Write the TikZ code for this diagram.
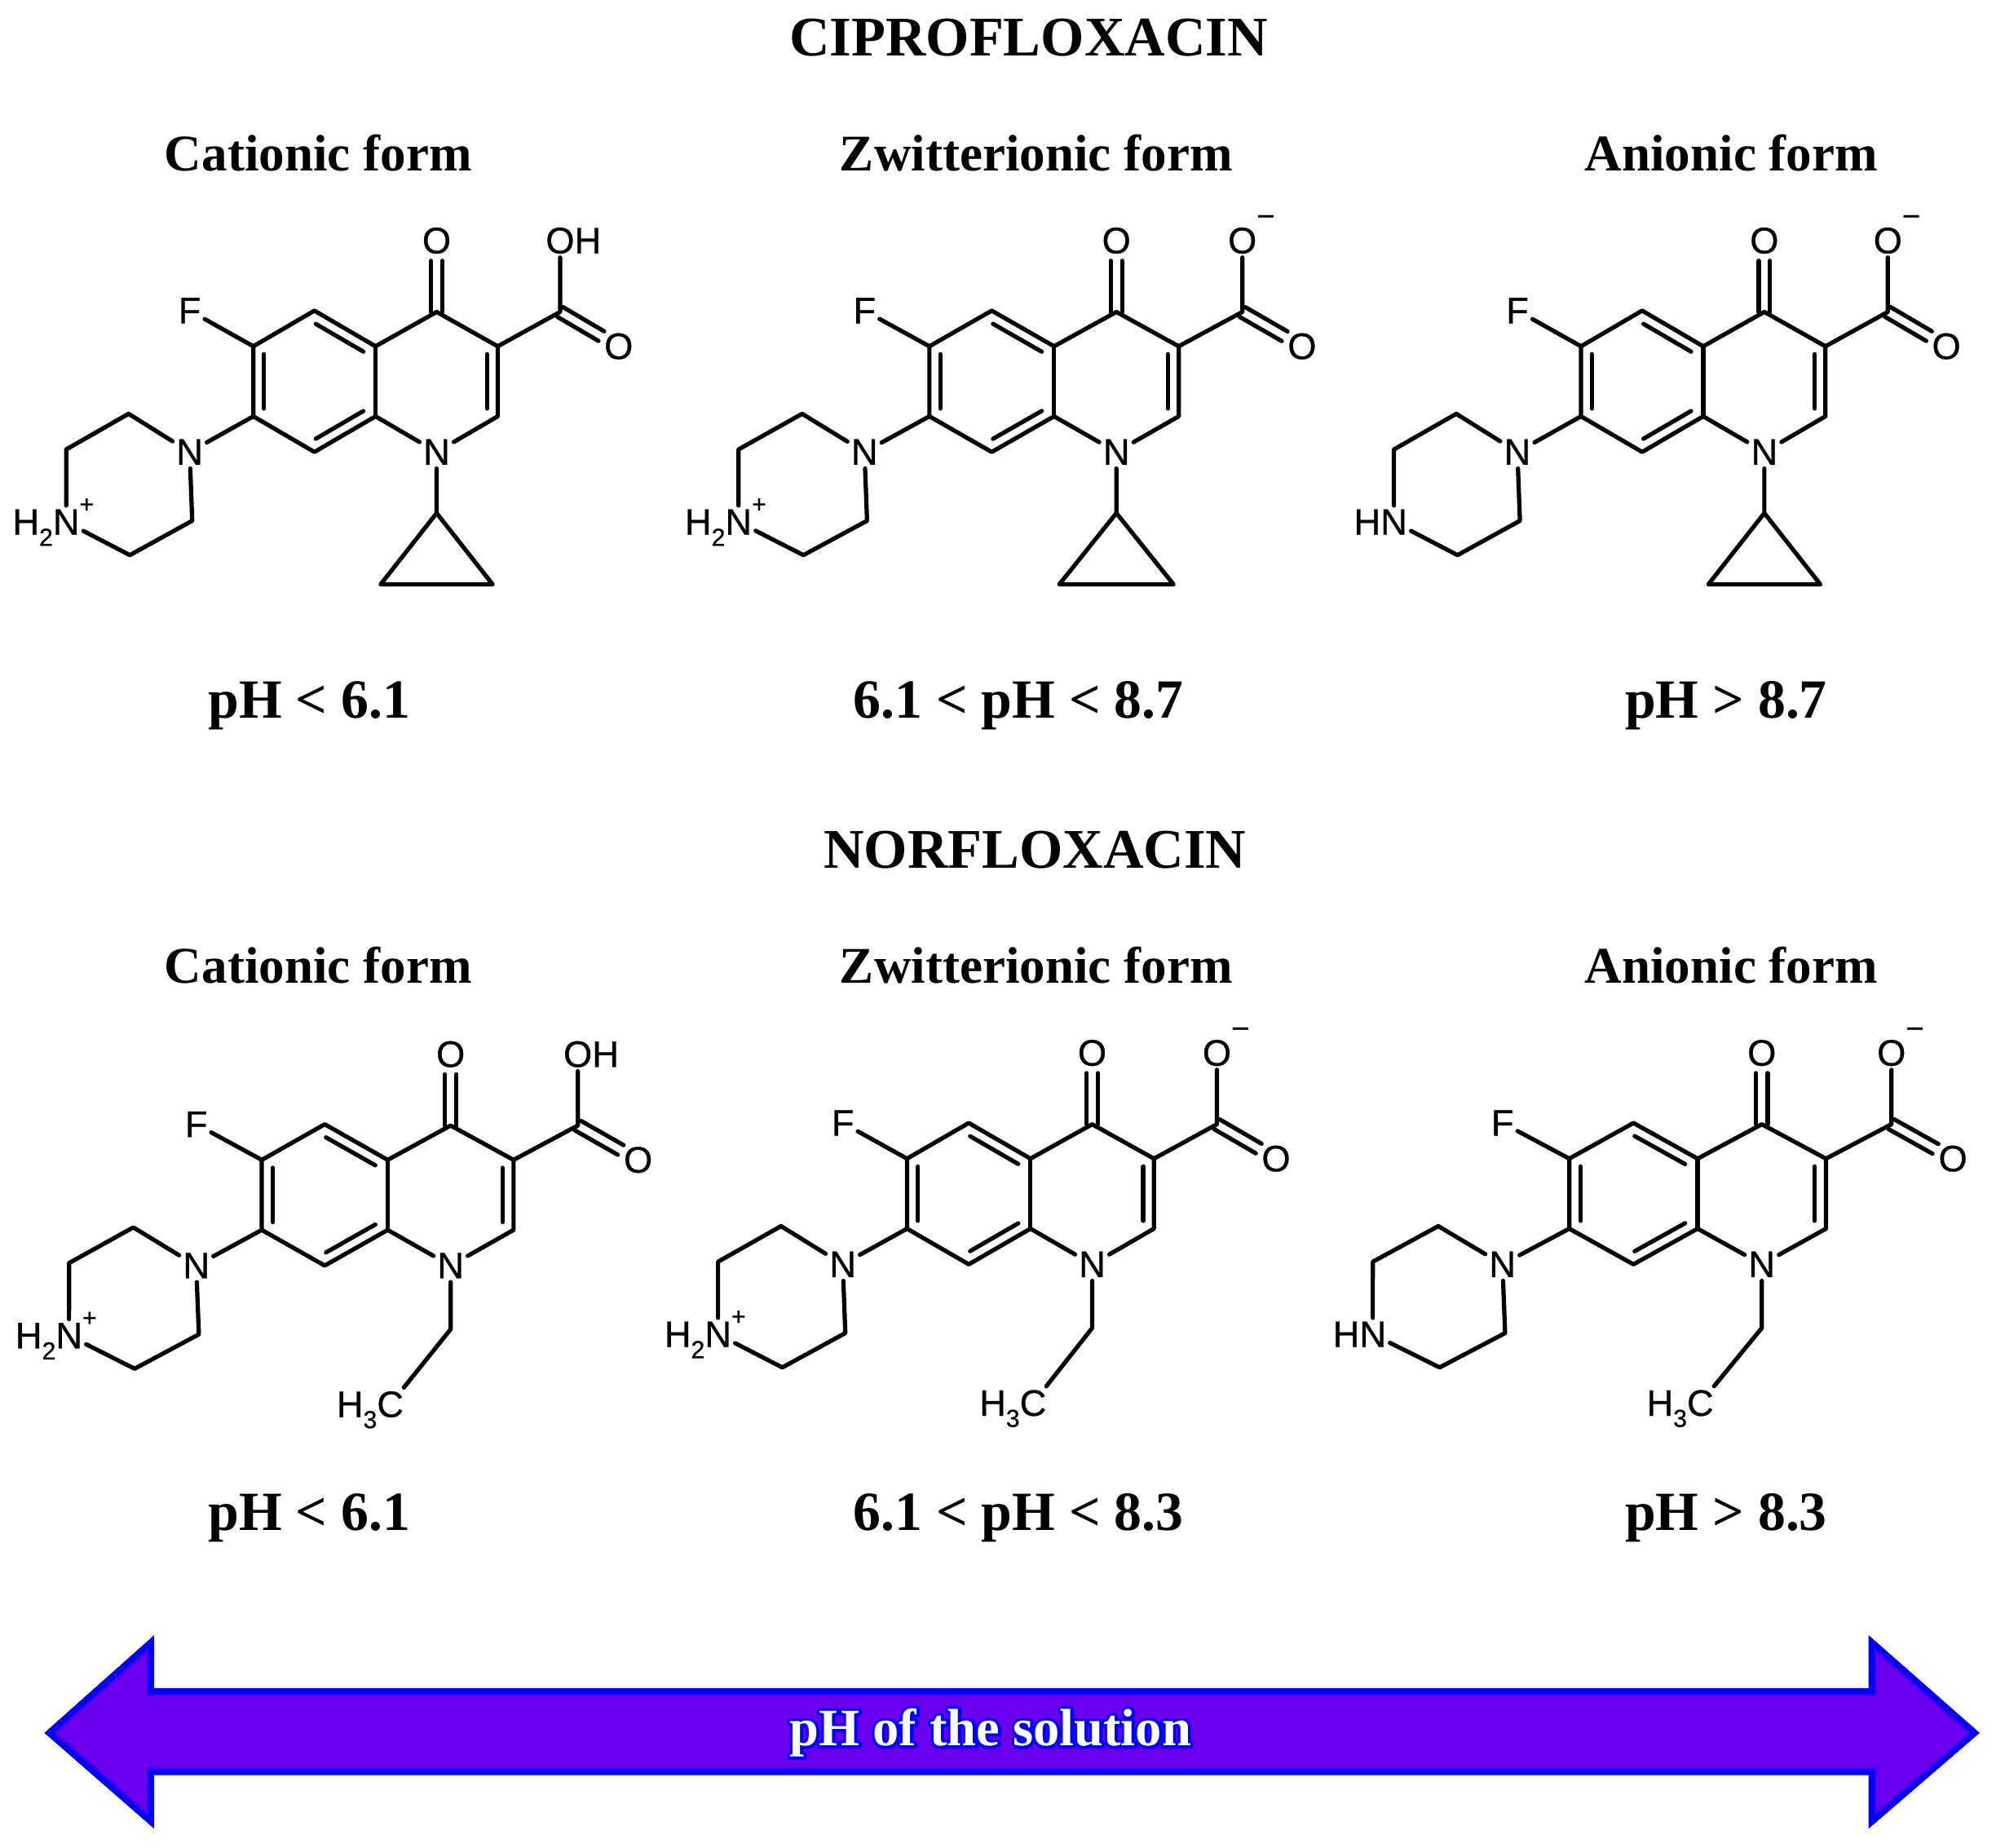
\documentclass[tikz,border=0pt]{standalone}
\usepackage{fontspec}
\setmainfont{Liberation Serif}
\newfontfamily\atomfont[FakeBold=0.6]{Liberation Sans}
\usetikzlibrary{calc}

\newcommand{\subtxt}[1]{\smash{\raisebox{-.3em}{\fontsize{11}{11}\selectfont #1}}}
\newcommand{\suptxt}[3]{\smash{\raisebox{#1}{\fontsize{#2}{#2}\selectfont #3}}}
% contour bleu autour du texte blanc
\newcommand{\halotxt}[1]{\rlap{\special{pdf:code 2 Tr 2.6 w 1 j 0 0 1 RG}#1\special{pdf:code 0 Tr}}#1}

\tikzset{
  bond/.style={line width=1.9pt, line cap=round, line join=round},
  atom/.style={font=\atomfont\fontsize{16.5}{16.5}\selectfont, inner sep=1.5pt},
  drugTitle/.style={font=\bfseries\fontsize{25}{25}\selectfont, anchor=base},
  formTitle/.style={font=\bfseries\fontsize{23}{23}\selectfont, anchor=base},
  phRange/.style={font=\bfseries\fontsize{24.7}{24.7}\selectfont, anchor=base},
  phLabel/.style={font=\bfseries\fontsize{23.5}{23.5}\selectfont, anchor=base, text=white},
}

% liaison double dans le cycle (cote gauche du sens a -> b)
\newcommand{\ringdouble}[2]{%
  \draw[bond, shorten <=3.5pt, shorten >=3.5pt] ($(#1)!4.8pt!90:(#2)$) -- ($(#2)!4.8pt!-90:(#1)$);}
% liaison double C=O
\newcommand{\oxodouble}[2]{%
  \draw[bond, shorten >=9pt] ($(#1)!2.5pt!90:(#2)$) -- ($(#2)!2.5pt!-90:(#1)$);
  \draw[bond, shorten >=9pt] ($(#1)!2.5pt!-90:(#2)$) -- ($(#2)!2.5pt!90:(#1)$);}

% #1 options du scope, #2 groupe acide, #3 amine, #4 substituant sur N1
\newcommand{\quinolone}[4]{%
  \begin{scope}[#1]
    \coordinate (C6) at (-144,-83);
    \coordinate (C5) at (-96,-111);
    \coordinate (C4a) at (-48,-83);
    \coordinate (C4) at (0,-110);
    \coordinate (C3) at (48,-83);
    \coordinate (C2) at (48,-28);
    \coordinate (C8a) at (-48,-28);
    \coordinate (C8) at (-96,0);
    \coordinate (C7) at (-144,-28);
    \coordinate (acidC) at (97,-110);
    \coordinate (pipTop) at (-242,-30);
    \coordinate (pipLeft) at (-291,-2);
    \coordinate (pipBottom) at (-241,81);
    \coordinate (pipRight) at (-192,54);
    \node[atom] (N1) at (0,0) {N};
    \node[atom] (F) at (-194,-111) {F};
    \node[atom] (O4) at (0,-166) {O};
    \node[atom] (acidO) at (97,-166) {#2};
    \node[atom] (acidOd) at (143,-83) {O};
    \node[atom] (pipN) at (-194,0) {N};
    \node[atom] (amine) at (-291,55) {#3};
    % Squelette
    \draw[bond] (C6) -- (C5) -- (C4a) -- (C4) -- (C3) -- (C2) -- (N1) -- (C8a) -- (C8) -- (C7) -- (C6);
    \draw[bond] (C4a) -- (C8a);
    \ringdouble{C6}{C7}
    \ringdouble{C8}{C8a}
    \ringdouble{C4a}{C5}
    \ringdouble{C2}{C3}
    \oxodouble{C4}{O4}
    \oxodouble{acidC}{acidOd}
    \draw[bond] (C6) -- (F);
    \draw[bond] (C3) -- (acidC) -- (acidO);
    % Piperazine
    \draw[bond] (C7) -- (pipN) -- (pipTop) -- (pipLeft) -- (amine) -- (pipBottom) -- (pipRight) -- (pipN);
    #4
  \end{scope}}

\newcommand{\cyclopropyl}{%
  \coordinate (cpTop) at (0,48);
  \coordinate (cpLeft) at (-44,104);
  \coordinate (cpRight) at (44,104);
  \draw[bond] (N1) -- (cpTop) -- (cpLeft) -- (cpRight) -- (cpTop);}

\newcommand{\ethyl}{%
  \coordinate (etMid) at (0,50);
  \node[atom] (etEnd) at (-46,109) {\llap{H\subtxt{3}}C};
  \draw[bond] (N1) -- (etMid) -- (etEnd);}

\newcommand{\acidH}{O\rlap{H}}
\newcommand{\acidMinus}{O\rlap{\suptxt{.72em}{14}{−}}}
\newcommand{\amineCat}{\llap{H\subtxt{2}}N\rlap{\suptxt{.6em}{11}{+}}}
\newcommand{\amineNeu}{\llap{H}N}

\begin{document}
\begin{tikzpicture}[x=0.02cm, y=-0.02cm, >=stealth]
  % --- CONFIGURATION ---
  \definecolor{arrowFill}{RGB}{106, 0, 238}
  \definecolor{arrowEdge}{RGB}{0, 0, 245}
  \definecolor{arrowSoft}{RGB}{70, 0, 240}
  \useasboundingbox (0,0) rectangle (1568,1451.4);

  % --- CIPROFLOXACINE ---
  \node[drugTitle] (ciproTitle) at (808,44) {CIPROFLOXACIN};
  \node[formTitle] (ciproCat) at (250,134) {Cationic form};
  \node[formTitle] (ciproZwi) at (814,134) {Zwitterionic form};
  \node[formTitle] (ciproAni) at (1360,134) {Anionic form};

  \quinolone{shift={(343,355)}, name prefix=cc-}{\acidH}{\amineCat}{\cyclopropyl}
  \quinolone{shift={(877,355)}, xscale=1.02, name prefix=cz-}{\acidMinus}{\amineCat}{\cyclopropyl}
  \quinolone{shift={(1386,355)}, name prefix=ca-}{\acidMinus}{\amineNeu}{\cyclopropyl}

  \node[phRange] (ciproPh1) at (243,564) {pH < 6.1};
  \node[phRange] (ciproPh2) at (800,564) {6.1 < pH < 8.7};
  \node[phRange] (ciproPh3) at (1356,564) {pH > 8.7};

  % --- NORFLOXACINE ---
  \node[drugTitle] (norTitle) at (813,682) {NORFLOXACIN};
  \node[formTitle] (norCat) at (250,772) {Cationic form};
  \node[formTitle] (norZwi) at (814,772) {Zwitterionic form};
  \node[formTitle] (norAni) at (1360,772) {Anionic form};

  \quinolone{shift={(354,994)}, xscale=1.03, name prefix=nc-}{\acidH}{\amineCat}{\ethyl}
  \quinolone{shift={(858,993)}, xscale=1.01, name prefix=nz-}{\acidMinus}{\amineCat}{\ethyl}
  \quinolone{shift={(1384,993)}, xscale=1.05, name prefix=na-}{\acidMinus}{\amineNeu}{\ethyl}

  \node[phRange] (norPh1) at (243,1202) {pH < 6.1};
  \node[phRange] (norPh2) at (800,1202) {6.1 < pH < 8.3};
  \node[phRange] (norPh3) at (1356,1202) {pH > 8.3};

  % --- FLECHE DU PH ---
  \def\arrowPath{(35,1361) -- (121,1284.5) -- (121,1326) -- (1468,1326) -- (1468,1284.5) -- (1555,1361) -- (1468,1436) -- (1468,1394) -- (121,1394) -- (121,1436) -- cycle}
  \begin{scope}
    \clip \arrowPath;
    \fill[arrowFill] \arrowPath;
    \draw[arrowSoft, line width=7pt] \arrowPath;
    \draw[arrowEdge, line width=5pt] \arrowPath;
  \end{scope}
  \node[phLabel] (phText) at (778,1371) {\halotxt{pH of the solution}};
\end{tikzpicture}
\end{document}
